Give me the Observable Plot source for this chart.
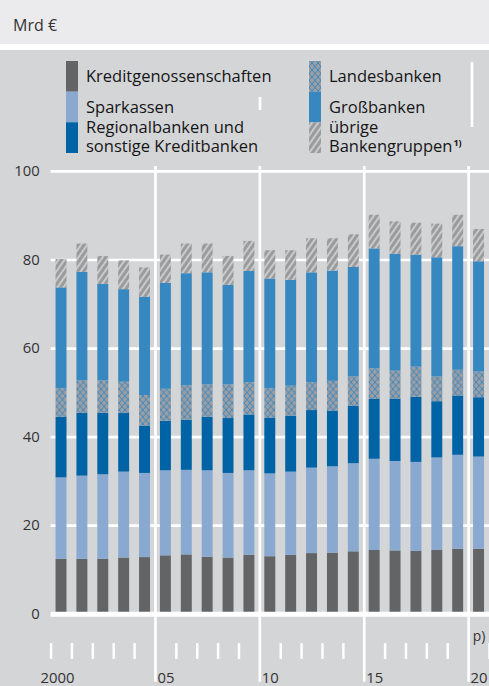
<!DOCTYPE html>
<html>
<head>
<meta charset="utf-8">
<script src="https://cdn.jsdelivr.net/npm/d3@7"></script>
<script src="https://cdn.jsdelivr.net/npm/@observablehq/plot@0.6"></script>
<style>
html, body { margin: 0; padding: 0; width: 489px; height: 686px; overflow: hidden; background: #ffffff; font-family: "Open Sans", sans-serif; }
#head { position: absolute; left: 0; top: 0; width: 489px; height: 44px; background: #ebebed; }
#panel { position: absolute; left: 0; top: 50px; width: 489px; height: 636px; background: #d4d5d7; }
#legend { position: absolute; left: 0; top: 0; }
#chart { position: absolute; left: 0; top: 160px; }
</style>
</head>
<body>
<div id="head"></div>
<div id="panel"></div>
<svg id="legend" width="489" height="160"></svg>
<div id="chart"></div>
<script>
// ---- data (Mrd €) ----
const years = [2000, 2001, 2002, 2003, 2004, 2005, 2006, 2007, 2008, 2009, 2010, 2011, 2012, 2013, 2014, 2015, 2016, 2017, 2018, 2019, 2020];
const kredit   = [12.4, 12.4, 12.4, 12.7, 12.8, 13.2, 13.4, 12.9, 12.7, 13.3, 13.0, 13.3, 13.7, 13.8, 14.1, 14.4, 14.3, 14.2, 14.4, 14.7, 14.7];
const spark    = [18.4, 18.8, 19.1, 19.4, 19.0, 19.2, 19.1, 19.5, 19.1, 19.1, 18.7, 18.8, 19.3, 19.5, 19.9, 20.6, 20.2, 20.1, 20.9, 21.2, 20.8];
const regional = [13.7, 14.2, 13.9, 13.3, 10.7, 11.2, 11.3, 12.1, 12.4, 12.6, 12.6, 12.6, 13.0, 12.6, 13.0, 13.5, 14.0, 14.7, 12.7, 13.4, 13.4];
const landes   = [6.4, 7.3, 7.3, 7.0, 6.9, 7.2, 7.8, 7.3, 7.6, 7.3, 6.6, 6.8, 6.3, 6.7, 6.6, 6.9, 6.4, 6.8, 5.6, 5.8, 5.8];
const gross    = [22.8, 24.5, 21.8, 20.9, 22.2, 23.9, 25.3, 25.3, 22.5, 25.1, 24.8, 23.9, 24.8, 24.9, 24.7, 27.1, 26.4, 25.3, 26.9, 27.9, 24.9];
const uebrige  = [6.4, 6.4, 6.3, 6.5, 6.6, 6.4, 6.7, 6.5, 6.5, 6.8, 6.4, 6.7, 7.7, 7.3, 7.4, 7.6, 7.3, 7.2, 7.6, 7.1, 7.3];

const series = ["Kreditgenossenschaften", "Sparkassen", "Regionalbanken und sonstige Kreditbanken", "Landesbanken", "Großbanken", "übrige Bankengruppen 1)"];
const legendLines = [["Kreditgenossenschaften"], ["Sparkassen"], ["Regionalbanken und", "sonstige Kreditbanken"], ["Landesbanken"], ["Großbanken"], ["übrige", "Bankengruppen"]];
const fills = ["#636466", "#89a9d0", "#0063a5", "url(#cross)", "#3787c0", "url(#hatch)"];

const yTicks = [0, 20, 40, 60, 80, 100];
const tickYears = [2000, 2001, 2002, 2003, 2004, 2006, 2007, 2008, 2009, 2011, 2012, 2013, 2014, 2016, 2017, 2018, 2019, 2021];
const sepYears = [2005, 2010, 2015, 2020];
const labelYears = [2000, 2005, 2010, 2015, 2020];
const labelTexts = ["2000", "05", "10", "15", "20"];
const unitLabel = "Mrd €";
const provisional = "p)";

const values = [kredit, spark, regional, landes, gross, uebrige];
const data = series.flatMap((s, i) => years.map((y, j) => ({year: y, series: s, value: values[i][j]})));

// ---- header + legend ----
const leg = d3.select("#legend");
const defs = leg.append("defs");
const cross = defs.append("pattern").attr("id", "cross").attr("patternUnits", "userSpaceOnUse").attr("width", 6).attr("height", 7);
cross.append("rect").attr("width", 6).attr("height", 7).attr("fill", "#9d9ea1");
cross.append("path").attr("d", "M0,0L6,7M6,0L0,7").attr("stroke", "#3a88c3").attr("stroke-width", 1).attr("fill", "none");
const hatch = defs.append("pattern").attr("id", "hatch").attr("patternUnits", "userSpaceOnUse").attr("width", 5).attr("height", 5).attr("patternTransform", "rotate(35)");
hatch.append("rect").attr("width", 5).attr("height", 5).attr("fill", "#9a9b9d");
hatch.append("line").attr("x1", 1).attr("y1", 0).attr("x2", 1).attr("y2", 5).attr("stroke", "#dedfe0").attr("stroke-width", 1.4);

leg.append("text").attr("x", 13).attr("y", 31).attr("font-size", 16).attr("fill", "#333").text(unitLabel);

// decorative white strokes seen behind the legend
[[260, 97, 110], [472, 62, 127]].forEach(([x, a, b]) =>
  leg.append("line").attr("x1", x).attr("x2", x).attr("y1", a).attr("y2", b).attr("stroke", "white").attr("stroke-width", 2.7));

const colX = [66, 309];
const rowY = [61, 91.7, 122.3];
const rowBase = [[82], [112.5], [133.3, 151.7]];
series.forEach((s, i) => {
  const c = i < 3 ? 0 : 1, r = i % 3;
  leg.append("rect").attr("x", colX[c]).attr("y", rowY[r]).attr("width", 12).attr("height", 30.7).attr("fill", fills[i]);
  legendLines[i].forEach((line, k) => {
    const t = leg.append("text").attr("x", colX[c] + 20).attr("y", rowBase[r][k]).attr("font-size", 16.5).attr("fill", "#161616").text(line);
    if (i === 5 && k === legendLines[i].length - 1) {
      t.append("tspan").attr("font-size", 9).attr("font-weight", "bold").attr("dy", -6).attr("dx", 1).text("1)");
    }
  });
});

// ---- chart ----
const textStyle = {frameAnchor: "bottom", lineAnchor: "bottom", fontSize: 15, fill: "#333"};
const chart = Plot.plot({
  width: 493,
  height: 526,
  marginLeft: 51,
  marginRight: 0,
  marginTop: 11,
  marginBottom: 68.5,
  x: {domain: [2000, 2021], axis: null, label: null},
  y: {domain: [0, 100], axis: null, label: null},
  color: {domain: series, range: fills},
  style: {background: "transparent", fontFamily: "'Open Sans', sans-serif", overflow: "visible"},
  marks: [
    Plot.ruleY(yTicks.filter(t => t > 0), {stroke: "white", strokeWidth: 2.7}),
    Plot.rectY(data, {x: "year", interval: 1, y: "value", fill: "series", order: series, insetLeft: 5, insetRight: 5}),
    Plot.ruleY([0], {stroke: "white", strokeWidth: 5}),
    Plot.ruleX(sepYears, {stroke: "white", strokeWidth: 2.7, insetTop: -5, insetBottom: -68.5}),
    Plot.axisX(tickYears, {tickSize: 16, dy: 29.5, stroke: "white", strokeWidth: 2.5, tickFormat: () => "", label: null}),
    Plot.text(labelYears.slice(0, 1), {x: d => d + 0.5, text: (d, i) => labelTexts[i], dy: 69.5, dx: -4, ...textStyle}),
    Plot.text(labelYears.slice(1), {x: d => d + 0.5, text: (d, i) => labelTexts[i + 1], dy: 69.5, ...textStyle}),
    Plot.text([provisional], {x: [2020.5], text: d => d, dy: 26.5, ...textStyle, fontSize: 14}),
    Plot.axisY(yTicks, {tickSize: 0, tickPadding: 11.5, fontSize: 15, color: "#333", label: null})
  ]
});
document.getElementById("chart").appendChild(chart);
</script>
</body>
</html>
